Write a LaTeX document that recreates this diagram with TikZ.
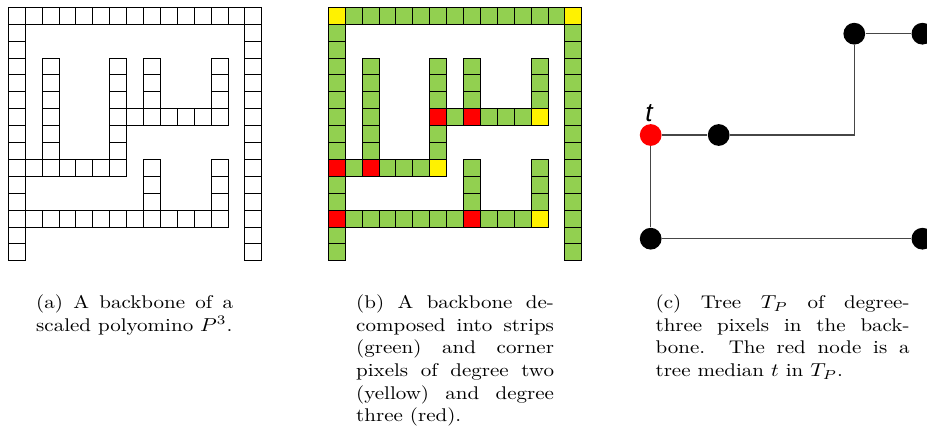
\documentclass[tikz,border=0pt]{standalone}
\usepackage{fontspec}
\newfontfamily\labelfont{Liberation Sans}
\definecolor{stripgreen}{RGB}{146,208,80}
\definecolor{edgegray}{RGB}{70,70,70}

% one pixel of the backbone, in cell units
\newcommand\bbpix[3]{\path[#1] (#2,#3) rectangle ++(1,1);}
% all pixels of the backbone, drawn with style #1
\newcommand\backbonecells[1]{%
  \foreach \i in {0,...,14} {\bbpix{#1}{\i}{0}}
  \foreach \i in {1,...,14} {\bbpix{#1}{0}{\i}\bbpix{#1}{14}{\i}}
  \foreach \i in {3,...,8} {\bbpix{#1}{2}{\i}\bbpix{#1}{6}{\i}}
  \foreach \i in {1,...,6} {\bbpix{#1}{\i}{9}}
  \foreach \i in {7,...,12} {\bbpix{#1}{\i}{6}}
  \foreach \i in {3,4,5} {\bbpix{#1}{8}{\i}\bbpix{#1}{12}{\i}}
  \foreach \i in {1,...,12} {\bbpix{#1}{\i}{12}}
  \foreach \i in {9,10,11} {\bbpix{#1}{8}{\i}\bbpix{#1}{12}{\i}}
}
% caption paragraph: widened serif text, first baseline at the node
\newcommand\capbox[2]{\scalebox{1.143}[1]{\parbox[t]{#1}{\hyphenpenalty=10000 #2}}}

\tikzset{
  pixel/.style={draw=black, line width=0.5pt},
  strip/.style={pixel, fill=stripgreen},
  cornertwo/.style={pixel, fill=yellow},
  cornerthree/.style={pixel, fill=red},
  treenode/.style={circle, fill=black, inner sep=0pt, minimum size=11.6pt},
  mediannode/.style={treenode, fill=red},
  treeedge/.style={draw=edgegray, line width=0.75pt},
  captiontext/.style={anchor=base west, inner sep=0pt, font=\fontsize{9.8}{12}\selectfont}
}

\begin{document}
\begin{tikzpicture}[x=0.5333pt, y=-0.5333pt]
\useasboundingbox (0,0) rectangle (927,440);

% (a) plain backbone
\begin{scope}[shift={(8.3,7.3)}, x=9.013pt, y=-9.013pt]
  \backbonecells{pixel}
\end{scope}

% (b) strips and corner pixels
\begin{scope}[shift={(328.3,7.3)}, x=9.013pt, y=-9.013pt]
  \backbonecells{strip}
  \foreach \c/\r in {0/0,14/0,12/6,6/9,12/12} {\bbpix{cornertwo}{\c}{\r}}
  \foreach \c/\r in {6/6,8/6,0/9,2/9,0/12,8/12} {\bbpix{cornerthree}{\c}{\r}}
\end{scope}

% (c) tree of degree-three pixels
\node[mediannode] (t)  at (650.7,135) {};
\node[treenode]   (n2) at (718.7,135) {};
\node[treenode]   (n3) at (854.3,33.7) {};
\node[treenode]   (n4) at (922.4,33.7) {};
\node[treenode]   (n5) at (650.7,238.7) {};
\node[treenode]   (n6) at (922.4,238.7) {};
\node[anchor=base, inner sep=0pt, font=\labelfont\itshape\fontsize{14}{16}\selectfont] (tlabel) at (649,121.7) {t};

\path[treeedge] (t) -- (n2);
\path[treeedge] (n2) -| (n3);
\path[treeedge] (n3) -- (n4);
\path[treeedge] (t) -- (n5);
\path[treeedge] (n5) -- (n6);

% captions
\node[captiontext] (capa) at (35.8,309) {\capbox{91.9pt}{%
(a) A backbone of a\linebreak scaled polyomino $P^3$.}};
\node[captiontext] (capb) at (355.8,309) {\capbox{92.3pt}{%
(b) A backbone de-\linebreak composed into strips\linebreak (green) and corner\linebreak pixels of degree two\linebreak (yellow) and degree\linebreak three (red).}};
\node[captiontext] (capc) at (655.2,309) {\capbox{118.5pt}{%
(c) Tree $T_P$ of degree-\linebreak three pixels in the back-\linebreak bone. The red node is a\linebreak tree median $t$ in $T_P$.}};
\end{tikzpicture}
\end{document}
